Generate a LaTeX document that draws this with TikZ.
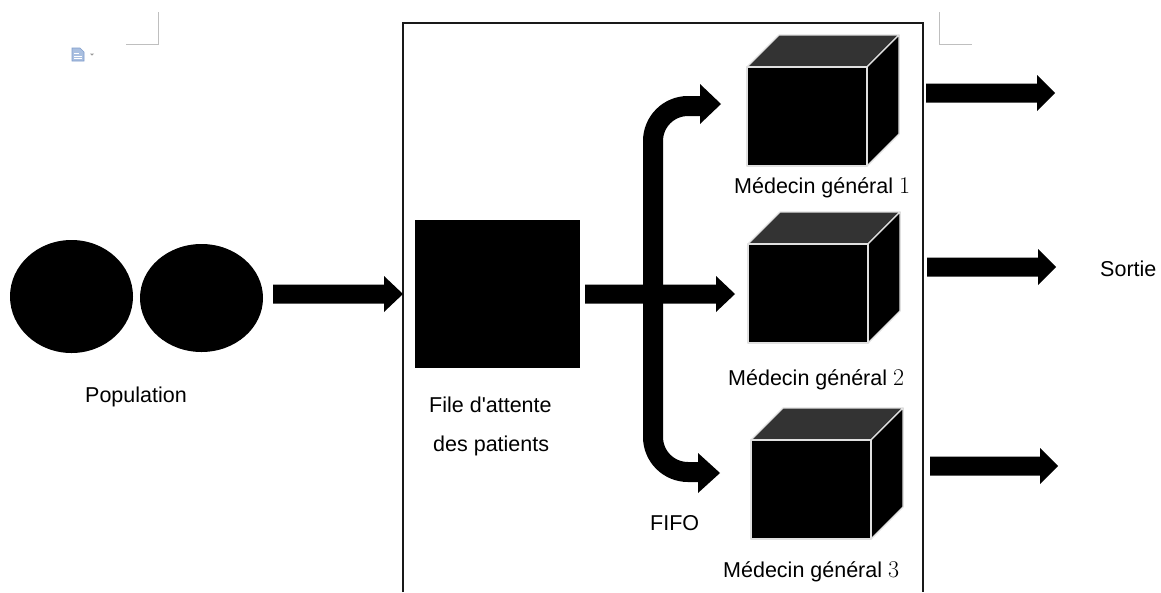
\documentclass[tikz,border=0pt]{standalone}
\usepackage{fontspec}
\setsansfont[Ligatures=TeXReset]{Liberation Sans}
\usetikzlibrary{calc,shapes.geometric}

% horizontal block arrow: #1 start, #2 tip, #3 shaft half-height, #4 head half-height, #5 head length
\newcommand\blockarrow[5]{%
  \fill[blockfill] let \p1=#1, \p2=#2 in
    (\x1,\y2+#3) -- (\x2-#5,\y2+#3) -- (\x2-#5,\y2+#4) -- (\x2,\y2)
    -- (\x2-#5,\y2-#4) -- (\x2-#5,\y2-#3) -- (\x1,\y2-#3) -- cycle;}

% cube: #1 name, #2 front top-left corner
\newcommand\doctorcube[2]{%
  \coordinate (#1) at #2;
  \filldraw[cubeedge, fill=black!80] (#1) -- ++(32,-32) -- ++(120,0) -- ++(-32,32) -- cycle;
  \filldraw[cubeedge, fill=black] ($(#1)+(120,0)$) -- ++(32,-32) -- ++(0,99) -- ++(-32,32) -- cycle;
  \filldraw[cubeedge, fill=black] (#1) rectangle ++(120,99);}

\definecolor{iconblue}{HTML}{A9BFE0}
\definecolor{iconline}{HTML}{7F9CCB}

\begin{document}
\begin{tikzpicture}[x=1pt,y=-1pt,
  blockfill/.style={fill=black},
  cubeedge/.style={draw=black!12, line width=1.2pt, line join=round},
  lbl/.style={font=\sffamily\fontsize{21.5}{26}\selectfont, inner sep=0pt, anchor=base west},
  blob/.style={ellipse, fill=black, inner sep=0pt},
  cornermark/.style={draw=black!25, line width=0.8pt}]
\useasboundingbox (0,0) rectangle (1161,592);
\fill[white] (0,0) rectangle (1161,592);

% page corner marks and the small document icon
\draw[cornermark] (126,44) -- (158,44) -- (158,12);
\draw[cornermark] (939,12) -- (939,44) -- (972,44);
\filldraw[draw=iconline, fill=iconblue, line width=0.6pt]
  (72,48) -- (80,48) -- (84,52) -- (84,61) -- (72,61) -- cycle;
\draw[white, line width=0.8pt] (74,53) -- (79,53) (74,56) -- (82,56) (74,58.5) -- (82,58.5);
\fill[black!40] (90,53.5) -- (94,53.5) -- (92,55.5) -- cycle;

% system boundary
\draw[line width=2pt, black!90] (403,592) -- (403,23) -- (923,23) -- (923,592);

% population
\node[blob, minimum width=123, minimum height=113] (pop1) at (71.5,296.5) {};
\node[blob, minimum width=123, minimum height=108] (pop2) at (201.5,298) {};
\node[lbl] (poplbl) at (85,402) {Population};

% waiting queue
\node[fill=black, minimum width=165, minimum height=148, inner sep=0pt] (queue) at (497.5,294) {};
\node[lbl] (qlbl1) at (429,412) {File d'attente};
\node[lbl] (qlbl2) at (433,451) {des patients};

% doctors
\doctorcube{gp1}{(747,67)}
\doctorcube{gp2}{(748,244)}
\doctorcube{gp3}{(751,440)}
\node[lbl] (gp1lbl) at (734,193) {Médecin général {\rmfamily\fontsize{24}{26}\selectfont 1}};
\node[lbl] (gp2lbl) at (728,385) {Médecin général {\rmfamily\fontsize{24}{26}\selectfont 2}};
\node[lbl] (gp3lbl) at (723,577) {Médecin général {\rmfamily\fontsize{24}{26}\selectfont 3}};

% arrival arrow
\coordinate (arrS) at ($(pop2.east)+(10,-4)$);
\coordinate (arrT) at (403,294);
\blockarrow{(arrS)}{(arrT)}{9.5}{18}{19}

% FIFO dispatch: straight branch and the two bent branches
\coordinate (qout) at ($(queue.east)+(5,0)$);
\coordinate (midT) at (735,294);
\blockarrow{(qout)}{(midT)}{9.5}{18}{19}
\coordinate (topEnd) at (701,106);
\coordinate (botEnd) at (699,472);
\coordinate (topT) at (721,104);
\coordinate (botT) at (720,473);
\draw[line width=20pt, rounded corners=35pt] (topEnd) -- (653,106) -- (653,472) -- (botEnd);
\fill (700,84) -- (topT) -- (700,124) -- cycle;
\fill (698,453) -- (botT) -- (698,493) -- cycle;
\node[lbl] (fifo) at (650,530) {FIFO};

% exits
\coordinate (out1S) at (926,93);   \coordinate (out1T) at (1055,93);
\coordinate (out2S) at (927,267);  \coordinate (out2T) at (1056,267);
\coordinate (out3S) at (930,466);  \coordinate (out3T) at (1058,466);
\blockarrow{(out1S)}{(out1T)}{9.5}{18}{18}
\blockarrow{(out2S)}{(out2T)}{9.5}{18}{18}
\blockarrow{(out3S)}{(out3T)}{9.5}{18}{18}
\node[lbl] (sortie) at (1100,276) {Sortie};
\end{tikzpicture}
\end{document}
